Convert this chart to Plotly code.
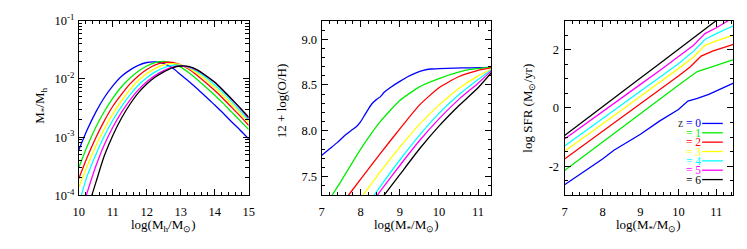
import plotly.graph_objects as go

# ---------------- data ----------------
Z_LABELS = ["0", "1", "2", "3", "4", "5", "6"]
COLORS = ["#0000ff", "#00ee00", "#ff0000", "#ffff00", "#00ffff", "#ff00ff", "#000000"]

# Panel 1: stellar-to-halo mass ratio (log10 values)
LOG_MH = [10.0, 10.25, 10.5, 10.75, 11.0, 11.25, 11.5, 11.75, 12.0, 12.25, 12.5,
          12.75, 13.0, 13.25, 13.5, 13.75, 14.0, 14.25, 14.5, 14.75, 15.0]
LOG_RATIO_Z0 = [-3.22, -2.87, -2.57, -2.32, -2.12, -1.96, -1.85, -1.77, -1.72, -1.71, -1.74,
                -1.81, -1.93, -2.05, -2.18, -2.31, -2.45, -2.59, -2.74, -2.88, -3.03]
LOG_RATIO_Z1 = [-3.52, -3.15, -2.83, -2.56, -2.33, -2.14, -1.99, -1.87, -1.78, -1.72, -1.70,
                -1.73, -1.80, -1.90, -2.02, -2.15, -2.28, -2.42, -2.57, -2.72, -2.87]
LOG_RATIO_Z2 = [-3.71, -3.34, -3.01, -2.72, -2.47, -2.27, -2.09, -1.95, -1.84, -1.76, -1.72,
                -1.72, -1.76, -1.84, -1.95, -2.07, -2.20, -2.34, -2.49, -2.64, -2.80]
LOG_RATIO_Z3 = [-3.86, -3.49, -3.15, -2.86, -2.60, -2.38, -2.19, -2.03, -1.91, -1.82, -1.76,
                -1.74, -1.76, -1.82, -1.91, -2.02, -2.15, -2.29, -2.44, -2.59, -2.75]
LOG_RATIO_Z4 = [-4.15, -3.66, -3.30, -2.98, -2.71, -2.48, -2.28, -2.11, -1.98, -1.88, -1.81,
                -1.77, -1.77, -1.81, -1.88, -1.98, -2.10, -2.24, -2.39, -2.55, -2.71]
LOG_RATIO_Z5 = [-4.40, -3.94, -3.50, -3.13, -2.83, -2.58, -2.37, -2.19, -2.05, -1.94, -1.86,
                -1.80, -1.78, -1.80, -1.86, -1.95, -2.06, -2.20, -2.35, -2.51, -2.68]
LOG_RATIO_Z6 = [-4.80, -4.25, -3.78, -3.32, -2.97, -2.68, -2.44, -2.24, -2.09, -1.97, -1.88,
                -1.81, -1.78, -1.79, -1.85, -1.95, -2.06, -2.20, -2.35, -2.50, -2.66]

# Panel 2: mass-metallicity relation
MZ_X_Z0 = [7.0, 7.2, 7.4, 7.6, 7.75, 7.9, 8.0, 8.1, 8.2, 8.3, 8.4, 8.5, 8.6, 8.75,
           9.0, 9.2, 9.4, 9.6, 9.8, 10.0, 10.4, 10.8, 11.35]
MZ_Y_Z0 = [7.73, 7.80, 7.87, 7.95, 8.00, 8.05, 8.10, 8.17, 8.24, 8.30, 8.34, 8.37, 8.42, 8.47,
           8.54, 8.59, 8.63, 8.66, 8.675, 8.68, 8.685, 8.688, 8.693]
MZ_X_Z1 = [7.0, 7.5, 8.0, 8.5, 9.0, 9.5, 10.0, 10.5, 10.8, 11.35]
MZ_Y_Z1 = [7.11, 7.45, 7.80, 8.10, 8.33, 8.48, 8.57, 8.64, 8.67, 8.695]
MZ_X_Z2 = [7.0, 7.5, 8.0, 8.5, 9.0, 9.5, 10.0, 10.5, 11.0, 11.35]
MZ_Y_Z2 = [6.92, 7.19, 7.47, 7.75, 8.02, 8.28, 8.47, 8.59, 8.66, 8.69]
MZ_X_Z3 = [8.0, 8.5, 9.0, 9.5, 10.0, 10.5, 11.0, 11.35]
MZ_Y_Z3 = [7.26, 7.55, 7.82, 8.07, 8.28, 8.46, 8.60, 8.675]
MZ_X_Z4 = [8.2, 8.5, 9.0, 9.5, 10.0, 10.5, 11.0, 11.35]
MZ_Y_Z4 = [7.21, 7.39, 7.68, 7.95, 8.19, 8.39, 8.56, 8.67]
MZ_X_Z5 = [8.3, 8.5, 9.0, 9.5, 10.0, 10.5, 11.0, 11.35]
MZ_Y_Z5 = [7.22, 7.34, 7.62, 7.89, 8.13, 8.34, 8.52, 8.66]
MZ_X_Z6 = [8.5, 9.0, 9.5, 10.0, 10.5, 11.0, 11.35]
MZ_Y_Z6 = [7.24, 7.52, 7.80, 8.05, 8.27, 8.47, 8.64]

# Panel 3: star-forming main sequence
SF_X_Z0 = [7.0, 7.5, 8.0, 8.3, 8.5, 9.0, 9.5, 10.0, 10.25, 10.5, 10.8, 11.1, 11.45]
SF_Y_Z0 = [-2.63, -2.20, -1.75, -1.45, -1.30, -0.90, -0.45, -0.05, 0.24, 0.33, 0.47, 0.65, 0.85]
SF_X_Z1 = [7.0, 7.5, 8.0, 8.5, 9.0, 9.5, 10.0, 10.25, 10.5, 10.8, 11.1, 11.45]
SF_Y_Z1 = [-2.14, -1.65, -1.15, -0.66, -0.18, 0.30, 0.78, 1.02, 1.25, 1.38, 1.50, 1.66]
SF_X_Z2 = [7.0, 7.5, 8.0, 8.5, 9.0, 9.5, 10.0, 10.3, 10.6, 10.9, 11.2, 11.45]
SF_Y_Z2 = [-1.75, -1.28, -0.80, -0.32, 0.15, 0.63, 1.10, 1.40, 1.78, 1.95, 2.07, 2.18]
SF_X_Z3 = [7.0, 7.5, 8.0, 8.5, 9.0, 9.5, 10.0, 10.4, 10.7, 11.0, 11.45]
SF_Y_Z3 = [-1.48, -1.02, -0.55, -0.08, 0.40, 0.87, 1.35, 1.75, 2.15, 2.30, 2.50]
SF_X_Z4 = [7.0, 7.5, 8.0, 8.5, 9.0, 9.5, 10.0, 10.4, 10.7, 11.0, 11.45]
SF_Y_Z4 = [-1.30, -0.83, -0.36, 0.11, 0.58, 1.05, 1.52, 1.95, 2.35, 2.55, 2.82]
SF_X_Z5 = [7.0, 7.5, 8.0, 8.5, 9.0, 9.5, 10.0, 10.4, 10.7, 11.0, 11.45]
SF_Y_Z5 = [-1.06, -0.60, -0.13, 0.34, 0.81, 1.28, 1.75, 2.15, 2.55, 2.75, 3.10]
SF_X_Z6 = [7.0, 7.5, 8.0, 8.5, 9.0, 9.5, 10.0, 10.5, 10.8, 11.0, 11.2]
SF_Y_Z6 = [-0.94, -0.44, 0.05, 0.54, 1.03, 1.52, 2.01, 2.50, 2.80, 3.00, 3.15]

RATIO_TICKVALS = [1e-4, 1e-3, 1e-2, 1e-1]
RATIO_TICKTEXT = ["10<sup>-4</sup>", "10<sup>-3</sup>", "10<sup>-2</sup>", "10<sup>-1</sup>"]
RATIO_MINOR = [m * d for d in (1e-4, 1e-3, 1e-2) for m in range(2, 10)]
SFR_TICKVALS = [-2, 0, 2]
SFR_TICKTEXT = ["-2", "0", "2"]

# ---------------- figure ----------------
FONT = "Liberation Serif"
W, H = 747, 249
LW = 1.3

fig = go.Figure()

ratio_sets = [LOG_RATIO_Z0, LOG_RATIO_Z1, LOG_RATIO_Z2, LOG_RATIO_Z3,
              LOG_RATIO_Z4, LOG_RATIO_Z5, LOG_RATIO_Z6]
for vals, c in zip(ratio_sets, COLORS):
    fig.add_trace(go.Scatter(x=LOG_MH, y=[10 ** v for v in vals], mode="lines",
                             line=dict(color=c, width=LW, shape="spline", smoothing=0.8),
                             xaxis="x", yaxis="y", showlegend=False, hoverinfo="skip"))

mz_sets = [(MZ_X_Z0, MZ_Y_Z0), (MZ_X_Z1, MZ_Y_Z1), (MZ_X_Z2, MZ_Y_Z2), (MZ_X_Z3, MZ_Y_Z3),
           (MZ_X_Z4, MZ_Y_Z4), (MZ_X_Z5, MZ_Y_Z5), (MZ_X_Z6, MZ_Y_Z6)]
for (xs, ys), c in zip(mz_sets, COLORS):
    fig.add_trace(go.Scatter(x=xs, y=ys, mode="lines",
                             line=dict(color=c, width=LW, shape="spline", smoothing=0.5),
                             xaxis="x2", yaxis="y2", showlegend=False, hoverinfo="skip"))

sf_sets = [(SF_X_Z0, SF_Y_Z0), (SF_X_Z1, SF_Y_Z1), (SF_X_Z2, SF_Y_Z2), (SF_X_Z3, SF_Y_Z3),
           (SF_X_Z4, SF_Y_Z4), (SF_X_Z5, SF_Y_Z5), (SF_X_Z6, SF_Y_Z6)]
for (xs, ys), c in zip(sf_sets, COLORS):
    fig.add_trace(go.Scatter(x=xs, y=ys, mode="lines",
                             line=dict(color=c, width=LW),
                             xaxis="x3", yaxis="y3", showlegend=False, hoverinfo="skip"))

def px(x):
    return x / W

def py(y):
    return 1 - y / H

Y_DOM = [py(199.3), py(12.3)]
tickfont = dict(family=FONT, size=12.5, color="black")
common = dict(showline=True, linecolor="black", linewidth=1, mirror="allticks",
              ticks="inside", ticklen=6, tickcolor="black", tickwidth=1,
              showgrid=False, zeroline=False, tickfont=tickfont)
minor_common = dict(ticks="inside", ticklen=3.5, tickcolor="black", tickwidth=1, showgrid=False)

fig.update_layout(
    width=W, height=H, margin=dict(l=0, r=0, t=0, b=0),
    paper_bgcolor="white", plot_bgcolor="white", showlegend=False,
    xaxis=dict(domain=[px(74), px(246.7)], range=[10, 15], dtick=1, tick0=10,
               ticklabelstandoff=5,
               minor=dict(dtick=0.2, **minor_common), anchor="y", **common),
    yaxis=dict(domain=Y_DOM, type="log", range=[-4, -1], tickvals=RATIO_TICKVALS,
               ticktext=RATIO_TICKTEXT, ticklabelstandoff=1,
               minor=dict(tickvals=RATIO_MINOR, **minor_common),
               anchor="x", **common),
    xaxis2=dict(domain=[px(320.7), px(493.3)], range=[7, 11.34], dtick=1, tick0=7,
                ticklabelstandoff=5,
                minor=dict(dtick=0.2, **minor_common), anchor="y2", **common),
    yaxis2=dict(domain=Y_DOM, range=[7.292, 9.205], dtick=0.5, tick0=7.5,
                tickformat=".1f", ticklabelstandoff=1,
                minor=dict(dtick=0.1, **minor_common), anchor="x2", **common),
    xaxis3=dict(domain=[px(567.7), px(739.3)], range=[7, 11.45], dtick=1, tick0=7,
                ticklabelstandoff=5,
                minor=dict(dtick=0.2, **minor_common), anchor="y3", **common),
    yaxis3=dict(domain=Y_DOM, range=[-3, 3], tickvals=SFR_TICKVALS, ticktext=SFR_TICKTEXT,
                ticklabelstandoff=2,
                minor=dict(dtick=0.5, tick0=0, **minor_common), anchor="x3", **common),
)

title_font = dict(family=FONT, size=13, color="black")
annos = [
    dict(text="log(M<sub>h</sub>/M<sub>⊙</sub>)", x=px(160), y=py(231), xref="paper", yref="paper",
         showarrow=False, font=title_font, xanchor="center", yanchor="middle"),
    dict(text="log(M<sub>*</sub>/M<sub>⊙</sub>)", x=px(407), y=py(231), xref="paper", yref="paper",
         showarrow=False, font=title_font, xanchor="center", yanchor="middle"),
    dict(text="log(M<sub>*</sub>/M<sub>⊙</sub>)", x=px(653), y=py(231), xref="paper", yref="paper",
         showarrow=False, font=title_font, xanchor="center", yanchor="middle"),
    dict(text="M<sub>*</sub>/M<sub>h</sub>", x=px(35), y=py(103), xref="paper", yref="paper",
         showarrow=False, font=title_font, textangle=-90, xanchor="center", yanchor="middle"),
    dict(text="12 + log(O/H)", x=px(280), y=py(98), xref="paper", yref="paper",
         showarrow=False, font=title_font, textangle=-90, xanchor="center", yanchor="middle"),
    dict(text="log SFR (M<sub>⊙</sub>/yr)", x=px(531), y=py(106), xref="paper", yref="paper",
         showarrow=False, font=title_font, textangle=-90, xanchor="center", yanchor="middle"),
]

legend_font = dict(family=FONT, size=11.5)
row0 = 122.3
row_step = 10.0
x_text_right = 707.0
shapes = []
for i, (lab, c) in enumerate(zip(Z_LABELS, COLORS)):
    yrow = row0 + i * row_step
    txt = "= " + lab
    if i == 0:
        txt = "z <span style='color:%s'>= %s</span>" % (c, lab)
    annos.append(dict(text=txt, x=px(x_text_right), y=py(yrow), xref="paper", yref="paper",
                      showarrow=False, xanchor="right", yanchor="middle", borderpad=0,
                      font=dict(color=("#333333" if i == 0 else c), **legend_font)))
    shapes.append(dict(type="line", xref="paper", yref="paper",
                       x0=px(707.5), x1=px(728.5), y0=py(yrow), y1=py(yrow),
                       line=dict(color=c, width=LW)))

fig.update_layout(annotations=annos, shapes=shapes)
fig.write_html("out.html", config={"displayModeBar": False},
               post_script="document.body.style.margin='0';document.body.style.overflow='hidden';")
